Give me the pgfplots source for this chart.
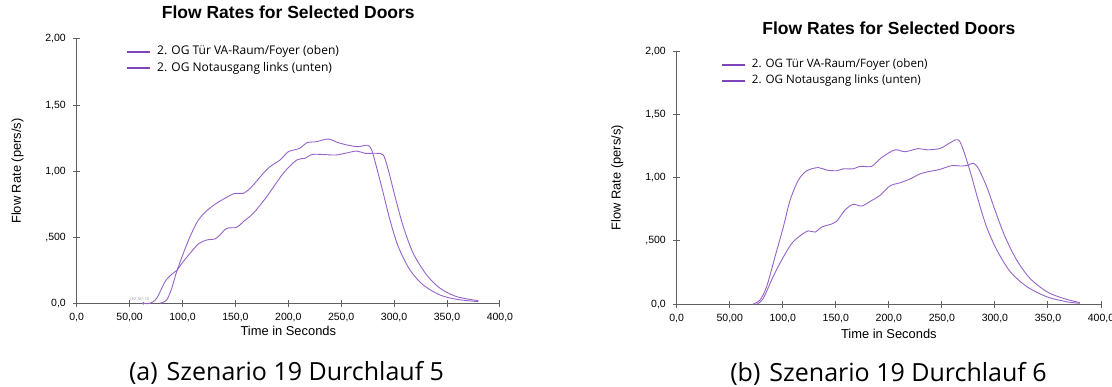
\documentclass[border=0pt]{standalone}
\usepackage{fontspec}
\usepackage{pgfplots}
\pgfplotsset{compat=1.18}
\setmainfont{Liberation Sans}
\newfontfamily\osans{Open Sans}
\definecolor{curvec}{HTML}{9664C8}
\definecolor{legc}{HTML}{7D45B8}
\definecolor{axc}{HTML}{606060}

\pgfplotstableread{
t v
63 0
69.3 0
75.6 0.038
83.5 0.163
89.8 0.22
95.1 0.252
99.2 0.30
107.1 0.378
115 0.449
122.9 0.479
130.7 0.487
135.4 0.517
141.8 0.567
151.2 0.575
157.5 0.618
166.9 0.681
179.6 0.807
195.3 0.984
207.9 1.084
215.8 1.097
223.6 1.127
244.1 1.122
253.6 1.135
264.7 1.152
272.5 1.135
283.6 1.135
289.8 1.122
294.5 1.009
300.9 0.807
308.7 0.58
318.1 0.378
330.8 0.214
343.4 0.114
359.2 0.05
379.6 0.02
}\LA
\pgfplotstableread{
t v
78.7 0
85 0.025
89.8 0.113
94.5 0.24
100.8 0.378
107.1 0.504
115 0.63
124.4 0.711
132.3 0.757
140.2 0.795
149.6 0.832
157.5 0.832
165.4 0.882
176.4 0.984
182.7 1.034
192.2 1.084
200 1.147
211 1.173
217.4 1.215
226.8 1.223
237.8 1.243
248.9 1.211
264.7 1.185
274.7 1.196
278.8 1.16
284.1 1.009
289.8 0.832
296.1 0.63
304 0.428
315 0.252
327.6 0.138
343.4 0.063
359.2 0.03
379.6 0.012
}\LB
\pgfplotstableread{
t v
71.6 0
78.5 0.034
84.8 0.14
92.7 0.376
100.5 0.61
106.8 0.82
114.7 0.98
122.6 1.055
133.5 1.08
141.4 1.06
150.8 1.055
157 1.07
166.5 1.07
172.8 1.09
183.8 1.09
193.3 1.16
205.8 1.22
215.2 1.205
227.8 1.23
235.7 1.22
248.2 1.23
254.5 1.26
263.3 1.30
267 1.285
271.8 1.18
278 1.01
284.3 0.82
292.2 0.61
301.7 0.43
314.2 0.26
330 0.14
348.8 0.06
367.6 0.02
380 0.008
}\RA
\pgfplotstableread{
t v
75.4 0
81.6 0.047
91 0.22
99 0.35
108.4 0.48
116.2 0.54
124 0.58
130.4 0.57
136.7 0.61
146.1 0.634
150.8 0.655
158.7 0.745
166.5 0.79
174.4 0.776
183.8 0.82
191.7 0.86
201 0.935
210.5 0.96
220 0.99
229.4 1.03
238.8 1.05
248.2 1.066
259.2 1.095
268.7 1.092
274.9 1.10
279.6 1.114
284.3 1.074
292.2 0.93
300 0.745
309.5 0.534
320.5 0.35
333 0.205
348.8 0.10
364.4 0.047
380 0.013
}\RB

\pgfplotsset{
  flowstyle/.style={
    scale only axis,
    axis lines=left,
    axis line style={-, axc, line width=1pt},
    every tick/.style={axc, line width=1pt},
    major tick length=6.6pt,
    tick align=center,
    xmin=0, xmax=400, ymin=0, ymax=2,
    enlargelimits=false,
    xtick={0,50,100,150,200,250,300,350,400},
    xticklabels={{0,0},{50,00},{100,0},{150,0},{200,0},{250,0},{300,0},{350,0},{400,0}},
    ytick={0,0.5,1,1.5,2},
    yticklabels={{0,0},{,500},{1,00},{1,50},{2,00}},
    ticklabel style={font=\fontsize{10.5}{12}\selectfont},
    xticklabel style={anchor=base, yshift=-14pt, inner sep=0pt},
    yticklabel style={anchor=east, xshift=-7.4pt, inner sep=0pt},
    xlabel={Time in Seconds},
    ylabel={Flow Rate (pers/s)},
    label style={font=\fontsize{12.9}{14}\selectfont},
    title={Flow Rates for Selected Doors},
    title style={font=\fontsize{17.5}{20}\selectfont\bfseries, at={(axis description cs:0.5,1)}, anchor=base, inner sep=0pt},
    legend cell align=left,
    legend image code/.code={\draw[legc, line width=2pt] (0pt,0pt) -- (23pt,0pt);},
    clip=false,
  },
  curve/.style={curvec, line width=0.9pt, smooth, tension=0.5, no markers},
}

\begin{document}
\begin{tikzpicture}[x=1pt,y=1pt]
\useasboundingbox (0,0) rectangle (1112,387);
% left panel
\begin{axis}[flowstyle,
  at={(76.7pt,83.7pt)}, anchor=south west,
  width=423.2pt, height=264.3pt,
  title style={yshift=14pt},
  xlabel style={at={(axis description cs:0.5,0)}, anchor=base, yshift=-32pt},
  ylabel style={at={(axis description cs:-0.1397,0.5)}, anchor=center},
  legend style={at={(axis description cs:0.1165,0.976)}, anchor=north west, draw=none, fill=none, inner sep=0pt, row sep=4.7pt,
    font=\osans\fontsize{12}{14}\selectfont,
    nodes={inner sep=0pt, text height=9pt, text depth=3pt},
    /tikz/every odd column/.append style={column sep=6pt}},
]
\addplot[curve] table[x=t,y=v] {\LB};
\addlegendentry{2. OG Tür VA-Raum/Foyer (oben)}
\addplot[curve] table[x=t,y=v] {\LA};
\addlegendentry{2. OG Notausgang links (unten)}
\addplot[only marks, mark=*, mark size=1.1pt, curvec, forget plot] coordinates {(63,0)};
\node[font=\fontsize{4.5}{5}\selectfont, text=gray!70, anchor=south, inner sep=0pt, yshift=1.5pt] at (axis cs:59.5,0) {(62,50, 0)};
\end{axis}
% right panel
\begin{axis}[flowstyle,
  at={(676.7pt,82.7pt)}, anchor=south west,
  width=424.3pt, height=253.2pt,
  title style={yshift=11pt},
  xlabel style={at={(axis description cs:0.5,0)}, anchor=base, yshift=-34pt},
  ylabel style={at={(axis description cs:-0.140,0.5)}, anchor=center},
  legend style={at={(axis description cs:0.1037,0.970)}, anchor=north west, draw=none, fill=none, inner sep=0pt, row sep=4.1pt,
    font=\osans\fontsize{11.6}{14}\selectfont,
    nodes={inner sep=0pt, text height=9pt, text depth=3pt},
    /tikz/every odd column/.append style={column sep=6pt}},
]
\addplot[curve] table[x=t,y=v] {\RA};
\addlegendentry{2. OG Tür VA-Raum/Foyer (oben)}
\addplot[curve] table[x=t,y=v] {\RB};
\addlegendentry{2. OG Notausgang links (unten)}
\end{axis}
% captions
\node[font=\osans\fontsize{25}{28}\selectfont, anchor=base, inner sep=0pt] at (286.5,6.3) {(a)\hspace{9pt}Szenario 19 Durchlauf 5};
\node[font=\osans\fontsize{25}{28}\selectfont, anchor=base, inner sep=0pt] at (888.5,5.2) {(b)\hspace{9pt}Szenario 19 Durchlauf 6};
\end{tikzpicture}
\end{document}
